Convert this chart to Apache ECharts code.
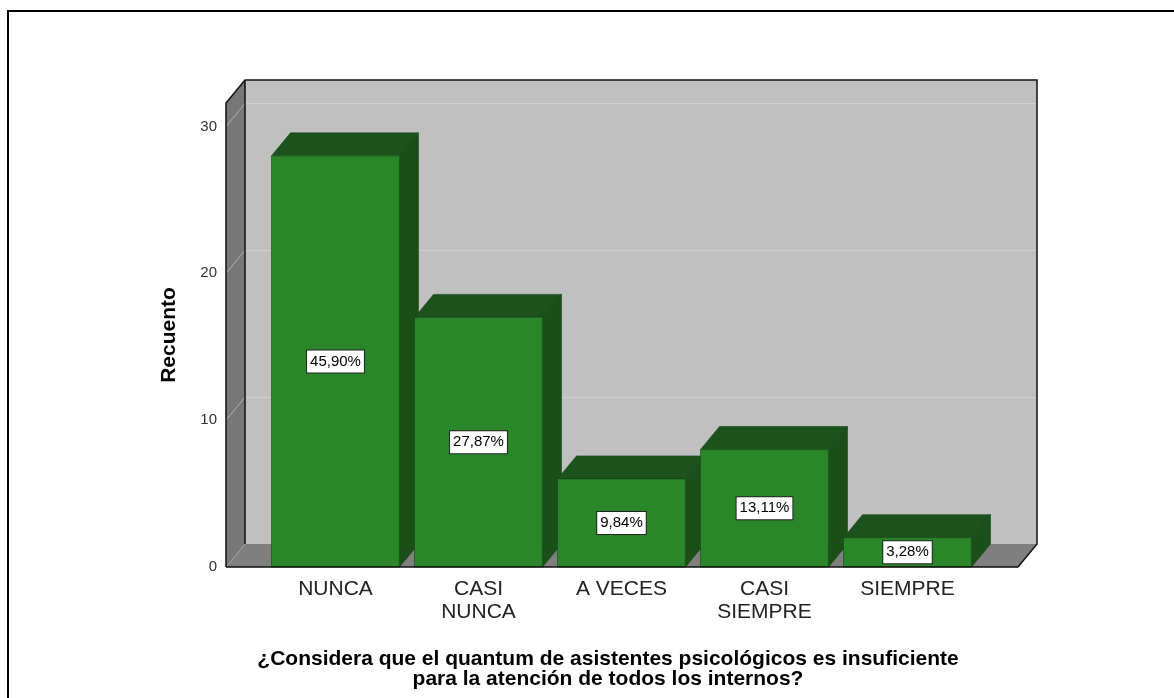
<!DOCTYPE html>
<html>
<head>
<meta charset="utf-8">
<script src="https://cdn.jsdelivr.net/npm/echarts@6/dist/echarts.min.js"></script>
<style>
    html, body { margin: 0; padding: 0; background: #fff; }
    #chart { width: 1174px; height: 698px; }
</style>
</head>
<body>
<div id="chart"></div>
<script>
    // datos del gráfico
    var categories = ['NUNCA', 'CASI\nNUNCA', 'A VECES', 'CASI\nSIEMPRE', 'SIEMPRE'];
    var counts = [28, 17, 6, 8, 2];
    var percents = ['45,90%', '27,87%', '9,84%', '13,11%', '3,28%'];
    var yMax = 31.6;
    var yStep = 10;

    // profundidad 3D
    var DX = 19, DY = -23;
    var FONT = "'Liberation Sans', Arial, sans-serif";

    var chart = echarts.init(document.getElementById('chart'));

    function renderBar(params, api) {
        var idx = api.value(0);
        var top = api.coord([idx, api.value(1)]);
        var base = api.coord([idx, 0]);
        var w = api.size([1, 0])[0] * 0.895;
        var x0 = top[0] - w / 2, x1 = top[0] + w / 2;
        var y0 = top[1], yb = base[1];
        var edge = '#174417';
        return {
            type: 'group',
            children: [
                {
                    type: 'polygon',
                    shape: { points: [[x0, y0], [x0 + DX, y0 + DY], [x1 + DX, y0 + DY], [x1, y0]] },
                    style: { fill: '#1c521c', stroke: edge, lineWidth: 0.6 }
                },
                {
                    type: 'polygon',
                    shape: { points: [[x1, y0], [x1 + DX, y0 + DY], [x1 + DX, yb + DY], [x1, yb]] },
                    style: { fill: '#1a4f1a', stroke: edge, lineWidth: 0.6 }
                },
                {
                    type: 'rect',
                    shape: { x: x0, y: y0, width: w, height: yb - y0 },
                    style: { fill: '#298629', stroke: edge, lineWidth: 0.6 }
                },
                {
                    type: 'text',
                    x: top[0],
                    y: (y0 + yb) / 2,
                    style: {
                        text: percents[params.dataIndex],
                        align: 'center',
                        verticalAlign: 'middle',
                        fontFamily: FONT,
                        fontSize: 15,
                        fill: '#000',
                        backgroundColor: '#fff',
                        borderColor: '#222',
                        borderWidth: 1,
                        padding: [4, 3, 3, 3]
                    }
                }
            ]
        };
    }

    chart.setOption({
        animation: false,
        grid: [
            // plano frontal (barras)
            { left: 264, right: 195, top: 103, bottom: 131 },
            // pared del fondo
            { left: 245, right: 137, top: 80, bottom: 154, show: true, backgroundColor: '#c0c0c0', borderWidth: 0 }
        ],
        xAxis: [
            {
                type: 'category',
                gridIndex: 0,
                data: categories,
                axisLine: { show: false },
                axisTick: { show: false },
                axisLabel: { fontFamily: FONT, fontSize: 21, color: '#222', lineHeight: 23, margin: 11 }
            },
            { type: 'value', gridIndex: 1, show: false, min: 0, max: 1 }
        ],
        yAxis: [
            {
                type: 'value',
                gridIndex: 0,
                min: 0,
                max: yMax,
                interval: yStep,
                offset: 38,
                name: 'Recuento',
                nameLocation: 'middle',
                nameGap: 46,
                nameTextStyle: { fontFamily: FONT, fontSize: 21, fontWeight: 'bold', color: '#000' },
                axisLine: { show: false },
                axisTick: { show: false },
                splitLine: { show: false },
                axisLabel: { fontFamily: FONT, fontSize: 15, color: '#333', margin: 9, showMaxLabel: false }
            },
            {
                type: 'value',
                gridIndex: 1,
                min: 0,
                max: yMax,
                interval: yStep,
                axisLine: { show: false },
                axisTick: { show: false },
                axisLabel: { show: false },
                splitLine: { show: true, lineStyle: { color: '#d0d0d0', width: 1 } }
            }
        ],
        series: [
            {
                type: 'custom',
                xAxisIndex: 0,
                yAxisIndex: 0,
                renderItem: renderBar,
                data: counts.map(function (c, i) { return [i, c]; }),
                z: 3
            }
        ]
    });

    // paredes laterales, suelo y bordes
    var fy0 = chart.convertToPixel({ yAxisIndex: 0 }, 0);
    var fyTop = chart.convertToPixel({ yAxisIndex: 0 }, yMax);
    var fl = 226, fr = 1018;
    var graphic = [
        {
            type: 'rect', shape: { x: 8, y: 11, width: 1200, height: 720 },
            style: { fill: 'none', stroke: '#000', lineWidth: 2 }, z: 0
        },
        {
            type: 'polygon', z: 1,
            shape: { points: [[fl, fyTop], [fl + DX, fyTop + DY], [fl + DX, fy0 + DY], [fl, fy0]] },
            style: { fill: '#777777' }
        },
        {
            type: 'polygon', z: 1,
            shape: { points: [[fl, fy0], [fl + DX, fy0 + DY], [fr + DX, fy0 + DY], [fr, fy0]] },
            style: { fill: '#7f7f7f' }
        }
    ];
    [yStep, yStep * 2, yStep * 3].forEach(function (v) {
        var py = chart.convertToPixel({ yAxisIndex: 0 }, v);
        graphic.push({
            type: 'line', z: 2,
            shape: { x1: fl, y1: py, x2: fl + DX, y2: py + DY },
            style: { stroke: '#b4b4b4', lineWidth: 1 }
        });
    });
    graphic.push({
        type: 'line', z: 2,
        shape: { x1: fl, y1: fy0, x2: fl + DX, y2: fy0 + DY },
        style: { stroke: '#a0a0a0', lineWidth: 1 }
    });
    graphic.push({
        type: 'polyline', z: 4,
        shape: { points: [[fl, fy0], [fl, fyTop], [fl + DX, fyTop + DY], [fr + DX, fyTop + DY], [fr + DX, fy0 + DY], [fr, fy0], [fl, fy0]] },
        style: { fill: 'none', stroke: '#111', lineWidth: 1.5 }
    });
    graphic.push({
        type: 'line', z: 2,
        shape: { x1: fl + DX, y1: fyTop + DY, x2: fl + DX, y2: fy0 + DY },
        style: { stroke: '#111', lineWidth: 1.5 }
    });
    graphic.push({
        type: 'text', z: 4, x: 608, y: 669,
        style: {
            text: '¿Considera que el quantum de asistentes psicológicos es insuficiente\npara la atención de todos los internos?',
            align: 'center', verticalAlign: 'middle',
            fontFamily: FONT, fontSize: 21, fontWeight: 'bold', lineHeight: 20, fill: '#000'
        }
    });
    chart.setOption({ graphic: graphic });
</script>
</body>
</html>
